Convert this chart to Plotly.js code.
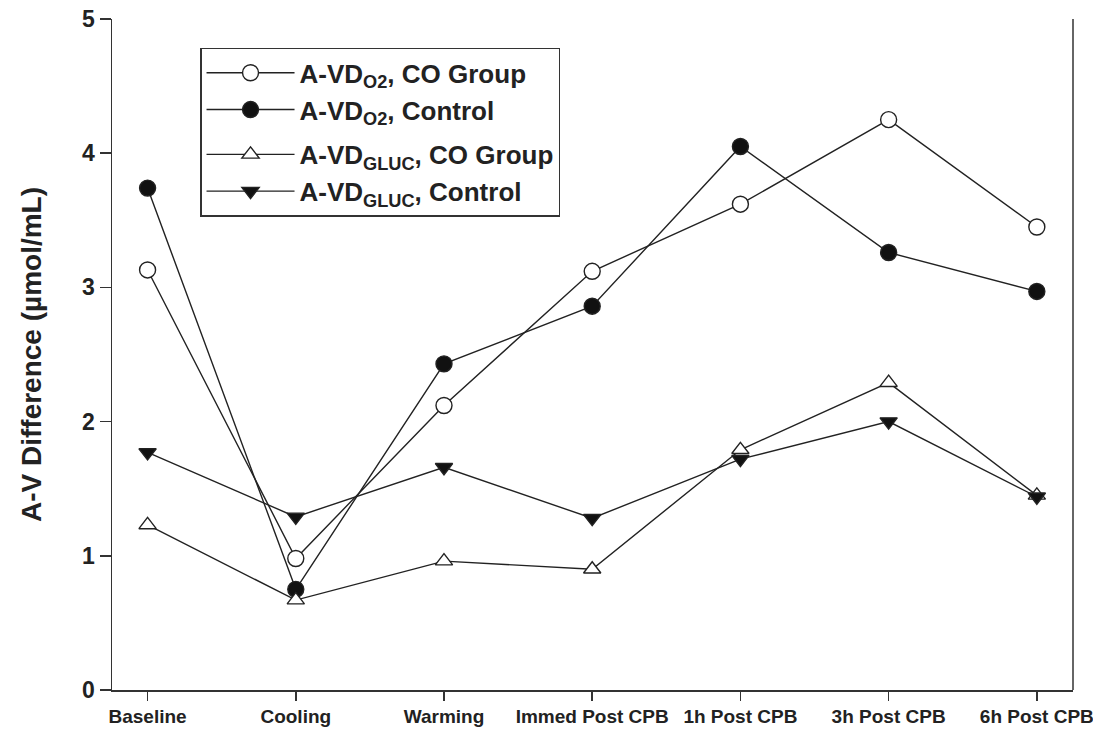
<!DOCTYPE html>
<html>
<head>
<meta charset="utf-8">
<script src="https://cdn.plot.ly/plotly-3.0.1.min.js"></script>
<style>html,body{margin:0;padding:0;background:#fff;}#chart{width:1093px;height:734px;}</style>
</head>
<body>
<div id="chart"></div>
<script>
const categories = ["Baseline", "Cooling", "Warming", "Immed Post CPB", "1h Post CPB", "3h Post CPB", "6h Post CPB"];
const o2CO      = [3.13, 0.98, 2.12, 3.12, 3.62, 4.25, 3.45];
const o2Control = [3.74, 0.75, 2.43, 2.86, 4.05, 3.26, 2.97];
const glucCO      = [1.23, 0.67, 0.96, 0.90, 1.79, 2.29, 1.45];
const glucControl = [1.77, 1.29, 1.66, 1.28, 1.72, 2.00, 1.44];
const seriesNames = ["A-VD<sub>O2</sub>, CO Group", "A-VD<sub>O2</sub>, Control", "A-VD<sub>GLUC</sub>, CO Group", "A-VD<sub>GLUC</sub>, Control"];
const yTicks = [0, 1, 2, 3, 4, 5];

const idx = categories.map((c, i) => i);
const lineCol = "#222";
function tr(y, name, symbol, fill, group) {
  return {
    x: idx, y: y, name: name, type: "scatter", mode: "lines+markers",
    legendgroup: group,
    line: {color: lineCol, width: 1.4},
    marker: {symbol: symbol, size: symbol.indexOf("triangle") === 0 ? 15 : 16, color: fill, line: {color: lineCol, width: 1.4}}
  };
}
const data = [
  tr(o2CO, seriesNames[0], "circle", "#fff", "o2"),
  tr(o2Control, seriesNames[1], "circle", "#111", "o2"),
  tr(glucCO, seriesNames[2], "triangle-up", "#fff", "gluc"),
  tr(glucControl, seriesNames[3], "triangle-down", "#111", "gluc")
];
const axCol = "#333";
const layout = {
  width: 1093, height: 734,
  margin: {l: 112, r: 20, t: 19, b: 44},
  paper_bgcolor: "#fff", plot_bgcolor: "#fff",
  font: {family: "Liberation Sans, Arial, sans-serif", color: "#222"},
  showlegend: true,
  legend: {
    x: 0.0916, y: 0.957, xanchor: "left", yanchor: "top",
    bordercolor: "#333", borderwidth: 1.5, bgcolor: "#fff",
    font: {size: 26, weight: "bold", color: "#222", family: "Liberation Sans, Arial, sans-serif"},
    traceorder: "grouped", tracegroupgap: 8, itemwidth: 88
  },
  xaxis: {
    range: [-0.24, 6.244], tickmode: "array", tickvals: idx, ticktext: categories,
    showgrid: false, zeroline: false, showline: true, linecolor: axCol, linewidth: 1.5,
    ticks: "outside", ticklen: 9, tickwidth: 1.5, tickcolor: axCol,
    ticklabeloverflow: "allow",
    tickfont: {size: 19, weight: "bold", family: "Liberation Sans Narrow, Arial Narrow, sans-serif", color: "#222"}
  },
  yaxis: {
    range: [0, 5], tickmode: "array", tickvals: yTicks,
    showgrid: false, zeroline: false, showline: true, linecolor: axCol, linewidth: 1.5,
    ticks: "outside", ticklen: 11, tickwidth: 1.5, tickcolor: axCol,
    tickfont: {size: 23, weight: "bold", color: "#222"},
    title: {text: "A-V Difference (µmol/mL)", font: {size: 28, weight: "bold", color: "#222"}, standoff: 32}
  },
  shapes: [
    {type: "line", xref: "paper", yref: "paper", x0: 1, x1: 1, y0: 0, y1: 1, line: {color: axCol, width: 1.5}},
    {type: "line", xref: "paper", yref: "paper", x0: -0.0115, x1: 0, y0: 0, y1: 0, line: {color: axCol, width: 1.5}}
  ]
};
Plotly.newPlot("chart", data, layout, {displayModeBar: false, staticPlot: true});
</script>
</body>
</html>
